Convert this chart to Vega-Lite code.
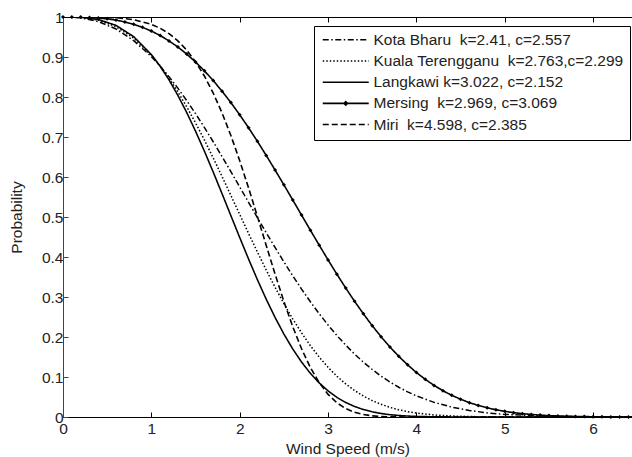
{
  "$schema": "https://vega.github.io/schema/vega-lite/v6.json",
  "width": 569,
  "height": 400,
  "autosize": {"type": "none"},
  "padding": {"left": 63, "top": 17, "right": 0, "bottom": 40},
  "background": "white",
  "config": {
    "view": {"stroke": null},
    "font": "Liberation Sans",
    "axis": {"grid": false, "labelFontSize": 15.5, "titleFontSize": 15.5, "titleFontWeight": "normal", "labelColor": "#222", "titleColor": "#222", "labelFont": "Liberation Sans", "titleFont": "Liberation Sans"}
  },
  "datasets": {
    "d": [
      {"s":"Kota Bharu","x":0,"p":1},{"s":"Kota Bharu","x":0.2,"p":0.9979},{"s":"Kota Bharu","x":0.4,"p":0.9886},{"s":"Kota Bharu","x":0.6,"p":0.9701},{"s":"Kota Bharu","x":0.8,"p":0.941},{"s":"Kota Bharu","x":1,"p":0.9012},{"s":"Kota Bharu","x":1.1,"p":0.8772},{"s":"Kota Bharu","x":1.2,"p":0.8508},{"s":"Kota Bharu","x":1.3,"p":0.8221},{"s":"Kota Bharu","x":1.4,"p":0.7912},{"s":"Kota Bharu","x":1.5,"p":0.7584},{"s":"Kota Bharu","x":1.6,"p":0.7239},{"s":"Kota Bharu","x":1.7,"p":0.6881},{"s":"Kota Bharu","x":1.8,"p":0.6511},{"s":"Kota Bharu","x":1.9,"p":0.6134},{"s":"Kota Bharu","x":2,"p":0.5751},{"s":"Kota Bharu","x":2.1,"p":0.5368},{"s":"Kota Bharu","x":2.2,"p":0.4986},{"s":"Kota Bharu","x":2.3,"p":0.4608},{"s":"Kota Bharu","x":2.4,"p":0.4239},{"s":"Kota Bharu","x":2.5,"p":0.3879},{"s":"Kota Bharu","x":2.6,"p":0.3531},{"s":"Kota Bharu","x":2.7,"p":0.3198},{"s":"Kota Bharu","x":2.8,"p":0.2881},{"s":"Kota Bharu","x":2.9,"p":0.2581},{"s":"Kota Bharu","x":3,"p":0.23},{"s":"Kota Bharu","x":3.1,"p":0.2038},{"s":"Kota Bharu","x":3.2,"p":0.1796},{"s":"Kota Bharu","x":3.3,"p":0.1574},{"s":"Kota Bharu","x":3.4,"p":0.1371},{"s":"Kota Bharu","x":3.5,"p":0.1187},{"s":"Kota Bharu","x":3.6,"p":0.1022},{"s":"Kota Bharu","x":3.7,"p":0.0875},{"s":"Kota Bharu","x":3.8,"p":0.0744},{"s":"Kota Bharu","x":3.9,"p":0.0629},{"s":"Kota Bharu","x":4,"p":0.0529},{"s":"Kota Bharu","x":4.2,"p":0.0366},{"s":"Kota Bharu","x":4.4,"p":0.0247},{"s":"Kota Bharu","x":4.6,"p":0.0163},{"s":"Kota Bharu","x":4.8,"p":0.0104},{"s":"Kota Bharu","x":5,"p":0.0065},{"s":"Kota Bharu","x":5.5,"p":0.0018},{"s":"Kota Bharu","x":6,"p":0.0004},{"s":"Kota Bharu","x":6.5,"p":0.0001},
      {"s":"Kuala Terengganu","x":0,"p":1},{"s":"Kuala Terengganu","x":0.2,"p":0.9988},{"s":"Kuala Terengganu","x":0.4,"p":0.9921},{"s":"Kuala Terengganu","x":0.6,"p":0.9759},{"s":"Kuala Terengganu","x":0.8,"p":0.9473},{"s":"Kuala Terengganu","x":1,"p":0.9046},{"s":"Kuala Terengganu","x":1.1,"p":0.8777},{"s":"Kuala Terengganu","x":1.2,"p":0.8471},{"s":"Kuala Terengganu","x":1.3,"p":0.813},{"s":"Kuala Terengganu","x":1.4,"p":0.7757},{"s":"Kuala Terengganu","x":1.5,"p":0.7354},{"s":"Kuala Terengganu","x":1.6,"p":0.6926},{"s":"Kuala Terengganu","x":1.7,"p":0.6477},{"s":"Kuala Terengganu","x":1.8,"p":0.6013},{"s":"Kuala Terengganu","x":1.9,"p":0.554},{"s":"Kuala Terengganu","x":2,"p":0.5064},{"s":"Kuala Terengganu","x":2.1,"p":0.459},{"s":"Kuala Terengganu","x":2.2,"p":0.4125},{"s":"Kuala Terengganu","x":2.3,"p":0.3674},{"s":"Kuala Terengganu","x":2.4,"p":0.3243},{"s":"Kuala Terengganu","x":2.5,"p":0.2835},{"s":"Kuala Terengganu","x":2.6,"p":0.2454},{"s":"Kuala Terengganu","x":2.7,"p":0.2103},{"s":"Kuala Terengganu","x":2.8,"p":0.1783},{"s":"Kuala Terengganu","x":2.9,"p":0.1496},{"s":"Kuala Terengganu","x":3,"p":0.1242},{"s":"Kuala Terengganu","x":3.1,"p":0.1019},{"s":"Kuala Terengganu","x":3.2,"p":0.0826},{"s":"Kuala Terengganu","x":3.3,"p":0.0662},{"s":"Kuala Terengganu","x":3.4,"p":0.0524},{"s":"Kuala Terengganu","x":3.5,"p":0.041},{"s":"Kuala Terengganu","x":3.6,"p":0.0317},{"s":"Kuala Terengganu","x":3.7,"p":0.0241},{"s":"Kuala Terengganu","x":3.8,"p":0.0182},{"s":"Kuala Terengganu","x":3.9,"p":0.0135},{"s":"Kuala Terengganu","x":4,"p":0.0099},{"s":"Kuala Terengganu","x":4.2,"p":0.0051},{"s":"Kuala Terengganu","x":4.4,"p":0.0025},{"s":"Kuala Terengganu","x":4.6,"p":0.0011},{"s":"Kuala Terengganu","x":4.8,"p":0.0005},{"s":"Kuala Terengganu","x":5,"p":0.0002},{"s":"Kuala Terengganu","x":5.5,"p":0},{"s":"Kuala Terengganu","x":6,"p":0},{"s":"Kuala Terengganu","x":6.5,"p":0},
      {"s":"Langkawi","x":0,"p":1},{"s":"Langkawi","x":0.2,"p":0.9992},{"s":"Langkawi","x":0.4,"p":0.9938},{"s":"Langkawi","x":0.6,"p":0.9791},{"s":"Langkawi","x":0.8,"p":0.951},{"s":"Langkawi","x":1,"p":0.9061},{"s":"Langkawi","x":1.1,"p":0.8767},{"s":"Langkawi","x":1.2,"p":0.8427},{"s":"Langkawi","x":1.3,"p":0.8041},{"s":"Langkawi","x":1.4,"p":0.7613},{"s":"Langkawi","x":1.5,"p":0.7146},{"s":"Langkawi","x":1.6,"p":0.6648},{"s":"Langkawi","x":1.7,"p":0.6124},{"s":"Langkawi","x":1.8,"p":0.5583},{"s":"Langkawi","x":1.9,"p":0.5034},{"s":"Langkawi","x":2,"p":0.4487},{"s":"Langkawi","x":2.1,"p":0.395},{"s":"Langkawi","x":2.2,"p":0.3434},{"s":"Langkawi","x":2.3,"p":0.2945},{"s":"Langkawi","x":2.4,"p":0.249},{"s":"Langkawi","x":2.5,"p":0.2074},{"s":"Langkawi","x":2.6,"p":0.1702},{"s":"Langkawi","x":2.7,"p":0.1374},{"s":"Langkawi","x":2.8,"p":0.1091},{"s":"Langkawi","x":2.9,"p":0.0852},{"s":"Langkawi","x":3,"p":0.0653},{"s":"Langkawi","x":3.1,"p":0.0491},{"s":"Langkawi","x":3.2,"p":0.0363},{"s":"Langkawi","x":3.3,"p":0.0263},{"s":"Langkawi","x":3.4,"p":0.0186},{"s":"Langkawi","x":3.5,"p":0.0129},{"s":"Langkawi","x":3.6,"p":0.0088},{"s":"Langkawi","x":3.7,"p":0.0058},{"s":"Langkawi","x":3.8,"p":0.0038},{"s":"Langkawi","x":3.9,"p":0.0024},{"s":"Langkawi","x":4,"p":0.0015},{"s":"Langkawi","x":4.2,"p":0.0005},{"s":"Langkawi","x":4.5,"p":0.0001},{"s":"Langkawi","x":5,"p":0},{"s":"Langkawi","x":5.5,"p":0},{"s":"Langkawi","x":6,"p":0},{"s":"Langkawi","x":6.5,"p":0},
      {"s":"Mersing","x":0,"p":1},{"s":"Mersing","x":0.1,"p":1},{"s":"Mersing","x":0.2,"p":0.9997},{"s":"Mersing","x":0.3,"p":0.999},{"s":"Mersing","x":0.4,"p":0.9976},{"s":"Mersing","x":0.5,"p":0.9954},{"s":"Mersing","x":0.6,"p":0.9922},{"s":"Mersing","x":0.7,"p":0.9877},{"s":"Mersing","x":0.8,"p":0.9817},{"s":"Mersing","x":0.9,"p":0.9741},{"s":"Mersing","x":1,"p":0.9648},{"s":"Mersing","x":1.1,"p":0.9536},{"s":"Mersing","x":1.2,"p":0.9403},{"s":"Mersing","x":1.3,"p":0.9249},{"s":"Mersing","x":1.4,"p":0.9073},{"s":"Mersing","x":1.5,"p":0.8875},{"s":"Mersing","x":1.6,"p":0.8654},{"s":"Mersing","x":1.7,"p":0.8411},{"s":"Mersing","x":1.8,"p":0.8146},{"s":"Mersing","x":1.9,"p":0.786},{"s":"Mersing","x":2,"p":0.7555},{"s":"Mersing","x":2.1,"p":0.7232},{"s":"Mersing","x":2.2,"p":0.6893},{"s":"Mersing","x":2.3,"p":0.654},{"s":"Mersing","x":2.4,"p":0.6176},{"s":"Mersing","x":2.5,"p":0.5804},{"s":"Mersing","x":2.6,"p":0.5427},{"s":"Mersing","x":2.7,"p":0.5048},{"s":"Mersing","x":2.8,"p":0.4669},{"s":"Mersing","x":2.9,"p":0.4295},{"s":"Mersing","x":3,"p":0.3927},{"s":"Mersing","x":3.1,"p":0.3569},{"s":"Mersing","x":3.2,"p":0.3224},{"s":"Mersing","x":3.3,"p":0.2893},{"s":"Mersing","x":3.4,"p":0.2579},{"s":"Mersing","x":3.5,"p":0.2283},{"s":"Mersing","x":3.6,"p":0.2007},{"s":"Mersing","x":3.7,"p":0.1751},{"s":"Mersing","x":3.8,"p":0.1517},{"s":"Mersing","x":3.9,"p":0.1304},{"s":"Mersing","x":4,"p":0.1112},{"s":"Mersing","x":4.1,"p":0.0941},{"s":"Mersing","x":4.2,"p":0.079},{"s":"Mersing","x":4.3,"p":0.0657},{"s":"Mersing","x":4.4,"p":0.0542},{"s":"Mersing","x":4.5,"p":0.0444},{"s":"Mersing","x":4.6,"p":0.0359},{"s":"Mersing","x":4.7,"p":0.0289},{"s":"Mersing","x":4.8,"p":0.023},{"s":"Mersing","x":4.9,"p":0.0181},{"s":"Mersing","x":5,"p":0.0141},{"s":"Mersing","x":5.1,"p":0.0109},{"s":"Mersing","x":5.2,"p":0.0084},{"s":"Mersing","x":5.3,"p":0.0063},{"s":"Mersing","x":5.4,"p":0.0047},{"s":"Mersing","x":5.5,"p":0.0035},{"s":"Mersing","x":5.6,"p":0.0026},{"s":"Mersing","x":5.7,"p":0.0019},{"s":"Mersing","x":5.8,"p":0.0013},{"s":"Mersing","x":5.9,"p":0.001},{"s":"Mersing","x":6,"p":0.0007},{"s":"Mersing","x":6.1,"p":0.0005},{"s":"Mersing","x":6.2,"p":0.0003},{"s":"Mersing","x":6.3,"p":0.0002},{"s":"Mersing","x":6.4,"p":0.0002},{"s":"Mersing","x":6.5,"p":0.0001},
      {"s":"Miri","x":0,"p":1},{"s":"Miri","x":0.2,"p":1},{"s":"Miri","x":0.4,"p":0.9997},{"s":"Miri","x":0.6,"p":0.9982},{"s":"Miri","x":0.8,"p":0.9934},{"s":"Miri","x":1,"p":0.9818},{"s":"Miri","x":1.1,"p":0.9719},{"s":"Miri","x":1.2,"p":0.9584},{"s":"Miri","x":1.3,"p":0.9404},{"s":"Miri","x":1.4,"p":0.9173},{"s":"Miri","x":1.5,"p":0.8882},{"s":"Miri","x":1.6,"p":0.8525},{"s":"Miri","x":1.7,"p":0.8099},{"s":"Miri","x":1.8,"p":0.7602},{"s":"Miri","x":1.9,"p":0.7036},{"s":"Miri","x":2,"p":0.6408},{"s":"Miri","x":2.1,"p":0.5729},{"s":"Miri","x":2.2,"p":0.5016},{"s":"Miri","x":2.3,"p":0.429},{"s":"Miri","x":2.4,"p":0.3573},{"s":"Miri","x":2.5,"p":0.2889},{"s":"Miri","x":2.6,"p":0.226},{"s":"Miri","x":2.7,"p":0.1705},{"s":"Miri","x":2.8,"p":0.1236},{"s":"Miri","x":2.9,"p":0.0857},{"s":"Miri","x":3,"p":0.0566},{"s":"Miri","x":3.1,"p":0.0355},{"s":"Miri","x":3.2,"p":0.021},{"s":"Miri","x":3.3,"p":0.0117},{"s":"Miri","x":3.4,"p":0.0061},{"s":"Miri","x":3.5,"p":0.0029},{"s":"Miri","x":3.6,"p":0.0013},{"s":"Miri","x":3.7,"p":0.0005},{"s":"Miri","x":3.8,"p":0.0002},{"s":"Miri","x":4,"p":0},{"s":"Miri","x":4.5,"p":0},{"s":"Miri","x":5,"p":0},{"s":"Miri","x":5.5,"p":0},{"s":"Miri","x":6,"p":0},{"s":"Miri","x":6.5,"p":0}
    ]
  },
  "data": {"name": "d"},
  "layer": [
    {
      "mark": {"type": "line", "color": "black", "clip": true},
      "encoding": {
        "x": {"field": "x", "type": "quantitative", "scale": {"domain": [0, 6.44], "nice": false, "zero": false},
          "axis": {"orient": "bottom", "values": [0,1,2,3,4,5,6], "format": "d", "tickSize": -5, "tickColor": "black", "domainColor": "black", "labelPadding": 9, "labelFlush": false, "title": "Wind Speed (m/s)", "titlePadding": 5}},
        "y": {"field": "p", "type": "quantitative", "scale": {"domain": [0, 1], "nice": false},
          "axis": {"values": [0,0.1,0.2,0.3,0.4,0.5,0.6,0.7,0.8,0.9,1], "format": "~g", "tickSize": -5, "tickColor": "#444", "domainColor": "#444", "labelPadding": 5, "labelFlush": false, "title": "Probability", "titlePadding": 17}},
        "strokeDash": {"field": "s", "type": "nominal",
          "scale": {"domain": ["Kota Bharu", "Kuala Terengganu", "Langkawi", "Mersing", "Miri"], "range": [[6,2.5,1.5,2.5],[1.5,2],[1,0],[1,0],[6,3]]},
          "legend": {
            "title": null, "orient": "none", "legendX": 251, "legendY": 9,
            "strokeColor": "black", "fillColor": "white", "padding": 6, "rowPadding": 4.2,
            "symbolSize": 100, "symbolOffset": 18, "symbolStrokeColor": "black", "symbolStrokeWidth": 1.5,
            "labelFontSize": 15.5, "labelColor": "#222", "labelLimit": 400, "labelOffset": 20,
            "labelExpr": "datum.value == 'Kota Bharu' ? 'Kota Bharu\u00a0 k=2.41, c=2.557' : datum.value == 'Kuala Terengganu' ? 'Kuala Terengganu\u00a0 k=2.763,c=2.299' : datum.value == 'Langkawi' ? 'Langkawi k=3.022, c=2.152' : datum.value == 'Mersing' ? 'Mersing\u00a0 k=2.969, c=3.069' : 'Miri\u00a0 k=4.598, c=2.385'",
            "encode": {"symbols": {"update": {
              "shape": {"signal": "datum.value == 'Mersing' ? 'M-4.6,0L4.6,0M0,-0.35L0.35,0L0,0.35L-0.35,0Z' : 'M-4.6,0L4.6,0'"},
              "strokeWidth": {"signal": "datum.value == 'Langkawi' || datum.value == 'Mersing' ? 2.2 : 1.6"},
              "stroke": {"value": "black"},
              "strokeOpacity": {"value": 1},
              "opacity": {"value": 1},
              "fill": {"value": "black"}
            }}}
          }},
        "strokeWidth": {"field": "s", "type": "nominal",
          "scale": {"domain": ["Kota Bharu", "Kuala Terengganu", "Langkawi", "Mersing", "Miri"], "range": [1.5, 1.6, 2.2, 2, 2]},
          "legend": null}
      }
    },
    {
      "transform": [{"filter": "datum.s == 'Mersing'"}],
      "mark": {"type": "point", "shape": "diamond", "filled": true, "color": "black", "size": 16, "opacity": 1},
      "encoding": {
        "x": {"field": "x", "type": "quantitative",
          "axis": {"orient": "top", "values": [0,1,2,3,4,5,6], "labels": false, "tickSize": -5, "tickColor": "black", "domainColor": "black", "title": null}},
        "y": {"field": "p", "type": "quantitative",
          "axis": {"values": [0,0.1,0.2,0.3,0.4,0.5,0.6,0.7,0.8,0.9,1], "format": "~g", "tickSize": -5, "tickColor": "#444", "domainColor": "#444", "labelPadding": 5, "labelFlush": false, "title": "Probability", "titlePadding": 17}}
      }
    }
  ],
  "resolve": {"axis": {"x": "independent"}}
}
